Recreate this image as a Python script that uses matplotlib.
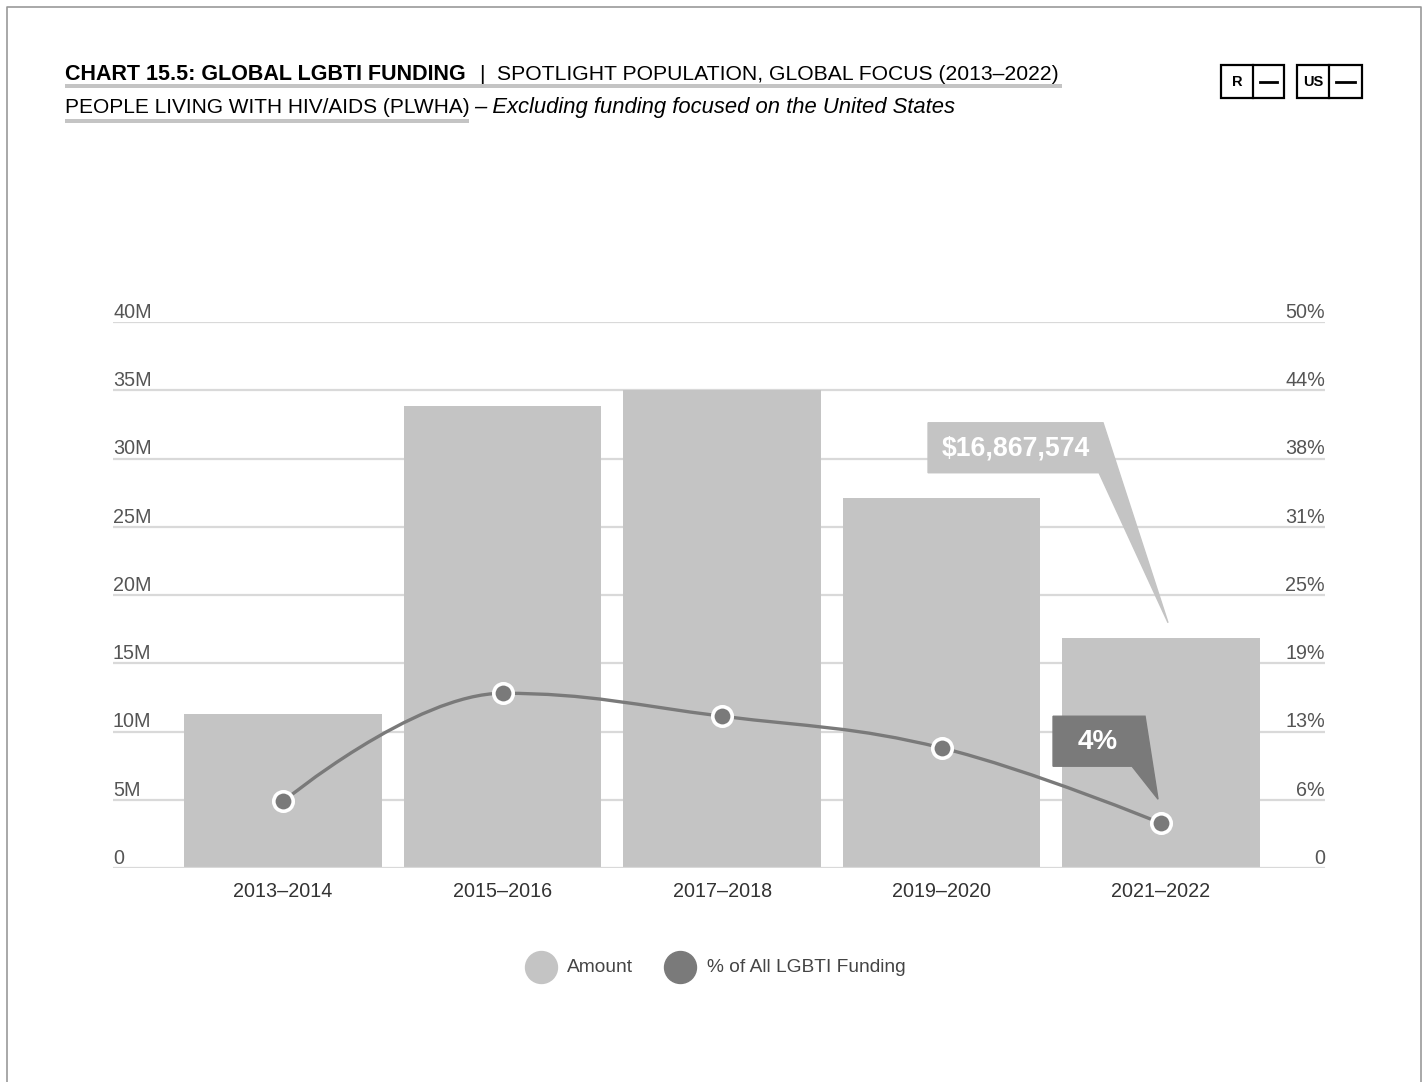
import matplotlib

matplotlib.use("Agg")
import matplotlib.pyplot as plt
import matplotlib.transforms as mtransforms
from matplotlib.lines import Line2D
from matplotlib.patches import PathPatch, Polygon, Rectangle
from matplotlib.path import Path

plt.rcParams["font.family"] = ["Liberation Sans", "DejaVu Sans"]

periods = ["2013–2014", "2015–2016", "2017–2018", "2019–2020", "2021–2022"]
amounts = [11_280_000, 33_850_000, 35_000_000, 27_100_000, 16_867_574]
share_pct = [6.1, 16.0, 13.9, 11.0, 4.1]
left_ticks = [0, 5e6, 10e6, 15e6, 20e6, 25e6, 30e6, 35e6, 40e6]
left_labels = ["0", "5M", "10M", "15M", "20M", "25M", "30M", "35M", "40M"]
right_ticks = [0, 6.25, 12.5, 18.75, 25, 31.25, 37.5, 43.75, 50]
right_labels = ["0", "6%", "13%", "19%", "25%", "31%", "38%", "44%", "50%"]

BAR = "#c4c4c4"
LINE = "#7a7a7a"
GRID = "#d9d9d9"
W, H = 1423, 1082

fig = plt.figure(figsize=(W / 100, H / 100), dpi=100)
fig.patch.set_facecolor("white")


def fx(px):
    return px / W


def fy(py):
    return 1 - py / H


ax = fig.add_axes([fx(113), fy(868), fx(1325) - fx(113), fy(322) - fy(868)])
ax2 = ax.twinx()
ax.set_xlim(-0.775, 4.747)
ax.set_ylim(0, 40e6)
ax2.set_ylim(0, 50)
for a in (ax, ax2):
    a.set_axis_off()
ax2.set_zorder(ax.get_zorder() + 1)

# grid + tick labels sitting just above the lines
for v, lab in zip(left_ticks, left_labels):
    ax.axhline(v, color=GRID, lw=1.6, zorder=3 if v == 0 else 0)
    ax.text(-0.775, v + 0.3e6, lab, ha="left", va="baseline", fontsize=14.2, color="#555555")
for v, lab in zip(right_ticks, right_labels):
    ax2.text(4.747, v + 0.37, lab, ha="right", va="baseline", fontsize=14.2, color="#555555")

x = list(range(len(periods)))
ax.bar(x, amounts, width=0.9, color=BAR, zorder=2)
for i, lab in enumerate(periods):
    ax.text(i, -1.7e6, lab, ha="center", va="center", fontsize=14.2, color="#333333")


# highcharts style spline through the points (pixel-like scaling)
def spline_path(xs, ys, sx, sy):
    pts = [(a * sx, b * sy) for a, b in zip(xs, ys)]
    n = len(pts)
    conts = [None] * n
    sm, den = 1.5, 2.5
    for i in range(1, n - 1):
        px_, py_ = pts[i]
        lx, ly = pts[i - 1]
        nx, ny = pts[i + 1]
        lcx = (sm * px_ + lx) / den
        lcy = (sm * py_ + ly) / den
        rcx = (sm * px_ + nx) / den
        rcy = (sm * py_ + ny) / den
        if rcx != lcx:
            corr = (rcy - lcy) * (rcx - px_) / (rcx - lcx) + py_ - rcy
            lcy += corr
            rcy += corr
        if lcy > ly and lcy > py_:
            lcy = max(ly, py_)
            rcy = 2 * py_ - lcy
        elif lcy < ly and lcy < py_:
            lcy = min(ly, py_)
            rcy = 2 * py_ - lcy
        if rcy > ny and rcy > py_:
            rcy = max(ny, py_)
            lcy = 2 * py_ - rcy
        elif rcy < ny and rcy < py_:
            rcy = min(ny, py_)
            lcy = 2 * py_ - rcy
        conts[i] = ((lcx, lcy), (rcx, rcy))
    verts = [pts[0]]
    codes = [Path.MOVETO]
    for i in range(1, n):
        c1 = conts[i - 1][1] if conts[i - 1] else pts[i - 1]
        c2 = conts[i][0] if conts[i] else pts[i]
        verts += [c1, c2, pts[i]]
        codes += [Path.CURVE4] * 3
    verts = [(a / sx, b / sy) for a, b in verts]
    return Path(verts, codes)


ax2.add_patch(PathPatch(spline_path(x, share_pct, 219.5, 10.92), fill=False,
                        edgecolor=LINE, lw=2.4, zorder=3, capstyle="round"))
ax2.plot(x, share_pct, ls="none", marker="o", ms=14, mfc=LINE, mec="white", mew=2.6, zorder=4)


# callouts anchored to the last period, shapes offset in pixels
def callout(axis, xv, yv, shape, text_xy, label, color, size):
    tr = mtransforms.Affine2D() + mtransforms.ScaledTranslation(xv, yv, axis.transData)
    axis.add_patch(Polygon(shape, closed=True, color=color, transform=tr, zorder=5, clip_on=False))
    axis.text(text_xy[0], text_xy[1], label, transform=tr, ha="center", va="center",
              fontsize=size, fontweight="bold", color="white", zorder=6)


callout(ax, x[-1], amounts[-1],
        [(-233, 215), (-58, 215), (7, 15), (-62, 165), (-233, 165)],
        (-145, 189), f"${amounts[-1]:,.0f}", BAR, 19.2)
callout(ax2, x[-1], share_pct[-1],
        [(-108, 107), (-16, 107), (-3, 24), (-29, 57), (-108, 57)],
        (-63, 81), f"{round(share_pct[-1])}%", LINE, 20)

# legend
fig.add_artist(Line2D([fx(541)], [fy(967)], marker="o", ms=23, mfc=BAR, mec=BAR, ls="none"))
fig.text(fx(567), fy(967), "Amount", ha="left", va="center", fontsize=13.8, color="#444444")
fig.add_artist(Line2D([fx(680)], [fy(967)], marker="o", ms=23, mfc=LINE, mec=LINE, ls="none"))
fig.text(fx(707), fy(967), "% of All LGBTI Funding", ha="left", va="center", fontsize=13.8,
         color="#444444")

# heading
fig.text(fx(65), fy(80), "CHART 15.5: GLOBAL LGBTI FUNDING", fontsize=15.5, fontweight="bold",
         va="baseline", color="black")
fig.text(fx(479), fy(80), "|", fontsize=15, va="baseline", color="black")
fig.text(fx(497), fy(80), "SPOTLIGHT POPULATION, GLOBAL FOCUS (2013–2022)", fontsize=15.2,
         va="baseline", color="black")
fig.text(fx(65), fy(113), "PEOPLE LIVING WITH HIV/AIDS (PLWHA)", fontsize=15, va="baseline",
         color="black")
fig.text(fx(474), fy(113), "– Excluding funding focused on the United States", fontsize=15.8,
         style="italic", va="baseline", color="black")
fig.add_artist(Rectangle((fx(65), fy(88)), fx(1062) - fx(65), fy(84) - fy(88), color=BAR, lw=0))
fig.add_artist(Rectangle((fx(65), fy(123)), fx(469) - fx(65), fy(119) - fy(123), color=BAR, lw=0))

# small boxed badges top right
for x0, x1, x2, lab in [(1221, 1253, 1284, "R"), (1297, 1329, 1362, "US")]:
    fig.add_artist(Rectangle((fx(x0), fy(98)), fx(x2) - fx(x0), fy(65) - fy(98), fill=False,
                             edgecolor="black", lw=1.6))
    fig.add_artist(Line2D([fx(x1), fx(x1)], [fy(65), fy(98)], color="black", lw=1.6))
    fig.text(fx((x0 + x1) / 2), fy(82), lab, ha="center", va="center", fontsize=10.5,
             fontweight="bold", color="black")
    fig.add_artist(Line2D([fx(x1 + 7), fx(x2 - 7)], [fy(81.5), fy(81.5)], color="black", lw=2))

# page frame
fig.add_artist(Line2D([fx(7), fx(7), fx(1421), fx(1421)], [0, fy(7), fy(7), 0],
                      color="#999999", lw=1.2))

fig.savefig("out.png", dpi=100, facecolor="white")
